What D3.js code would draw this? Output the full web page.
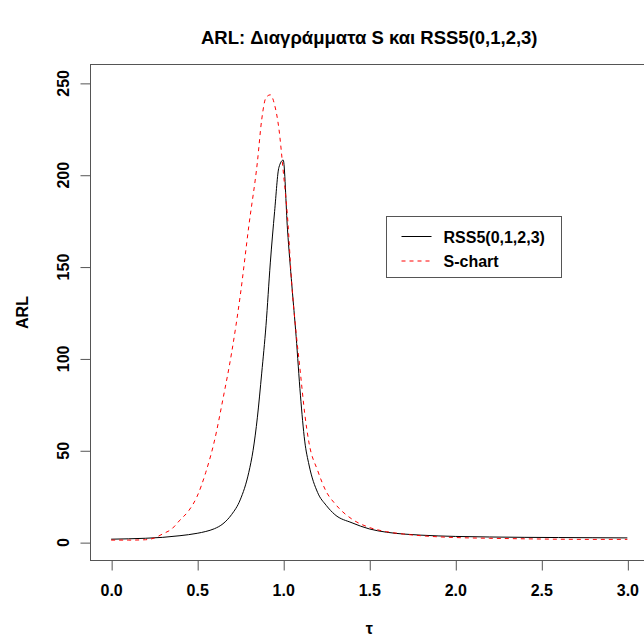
<!DOCTYPE html>
<html>
<head>
<meta charset="utf-8">
<script src="https://cdn.jsdelivr.net/npm/d3@7"></script>
<style>
  body { margin: 0; background: #fff; }
  svg text { font-family: "Liberation Sans", Arial, sans-serif; font-weight: bold; fill: #000; }
</style>
</head>
<body>
<div id="chart"></div>
<script>

// tau values and ARL for the two charts
var rssTau = [0, 0.1, 0.2, 0.3, 0.4, 0.5, 0.55, 0.6, 0.65, 0.7, 0.75, 0.8, 0.825, 0.85, 0.875, 0.9, 0.925, 0.95, 0.975, 1.0,
  1.025, 1.05, 1.075, 1.1, 1.125, 1.15, 1.2, 1.25, 1.3, 1.4, 1.5, 1.6, 1.7, 1.8, 2.0, 2.2, 2.4, 2.6, 2.8, 3.0];
var rssARL = [1.6, 1.8, 2.1, 2.6, 3.5, 4.8, 5.8, 7.3, 10, 15, 23, 38, 50, 68, 92, 118, 152, 180, 204, 208,
  170, 140, 112, 80, 55, 42, 27, 20, 15, 10.5, 7.2, 5.4, 4.4, 3.8, 3.1, 2.8, 2.6, 2.5, 2.4, 2.3];

var sTau = [0, 0.1, 0.2, 0.25, 0.3, 0.35, 0.4, 0.45, 0.5, 0.55, 0.6, 0.65, 0.7, 0.75, 0.8, 0.85, 0.875, 0.9, 0.925, 0.95, 0.975, 1.0,
  1.025, 1.05, 1.075, 1.1, 1.125, 1.15, 1.2, 1.25, 1.3, 1.4, 1.5, 1.6, 1.7, 1.8, 2.0, 2.2, 2.4, 2.6, 2.8, 3.0];
var sARL = [1.1, 1.1, 1.3, 2.2, 4.5, 7, 12, 17, 25, 38, 55, 78, 103, 134, 172, 207, 230, 242, 243.5, 238, 225, 202,
  177, 140, 114, 92, 70, 54, 39, 27.5, 21, 12.5, 8, 5.7, 4.4, 3.5, 2.5, 2.1, 1.8, 1.6, 1.5, 1.5];

var xTicks = [0, 0.5, 1.0, 1.5, 2.0, 2.5, 3.0];
var yTicks = [0, 50, 100, 150, 200, 250];
var legendNames = ["RSS5(0,1,2,3)", "S-chart"];

var W = 644, H = 637;
var plot = { left: 90.5, right: 648, top: 64.5, bottom: 560.5 };

var svg = d3.select("#chart").append("svg")
  .attr("width", W)
  .attr("height", H);

// R style: 4% padding on each side of the data range
var x = d3.scaleLinear().domain([-0.12, 3.12]).range([plot.left, plot.right]);
var y = d3.scaleLinear().domain([-10, 260]).range([plot.bottom, plot.top]);

// box
svg.append("rect")
  .attr("x", plot.left)
  .attr("y", plot.top)
  .attr("width", plot.right - plot.left)
  .attr("height", plot.bottom - plot.top)
  .attr("fill", "none")
  .attr("stroke", "#555")
  .attr("stroke-width", 1);

// x axis
var xAxis = svg.append("g")
  .attr("transform", "translate(0," + plot.bottom + ")")
  .call(d3.axisBottom(x).tickValues(xTicks).tickSize(10).tickPadding(25)
    .tickFormat(d3.format(".1f")));

xAxis.select(".domain").remove();
xAxis.selectAll("line").attr("stroke", "#555").attr("transform", "translate(0.5,0)");
xAxis.selectAll("text").style("font-size", "16px").attr("dy", "0");

// y axis, labels turned like R does
var yAxis = svg.append("g")
  .attr("transform", "translate(" + plot.left + ",0)")
  .call(d3.axisLeft(y).tickValues(yTicks).tickSize(10).tickFormat(d3.format("d")));

yAxis.select(".domain").remove();
yAxis.selectAll("line").attr("stroke", "#555").attr("transform", "translate(0,0.5)");
yAxis.selectAll("text")
  .style("font-size", "16px")
  .attr("x", null)
  .attr("dy", null)
  .attr("text-anchor", "middle")
  .attr("transform", "translate(-22,0) rotate(-90)");

// titles
svg.append("text")
  .attr("x", (plot.left + plot.right) / 2)
  .attr("y", 44)
  .attr("text-anchor", "middle")
  .style("font-size", "18.5px")
  .text("ARL: Διαγράμματα S και RSS5(0,1,2,3)");

svg.append("text")
  .attr("transform", "translate(28," + ((plot.top + plot.bottom) / 2) + ") rotate(-90)")
  .attr("text-anchor", "middle")
  .style("font-size", "16px")
  .text("ARL");

svg.append("text")
  .attr("x", (plot.left + plot.right) / 2)
  .attr("y", 634)
  .attr("text-anchor", "middle")
  .style("font-size", "16px")
  .text("τ");

// curves
var line = d3.line()
  .x(function(d) { return x(d[0]); })
  .y(function(d) { return y(d[1]); })
  .curve(d3.curveMonotoneX);

svg.append("path")
  .datum(d3.zip(rssTau, rssARL))
  .attr("d", line)
  .attr("fill", "none")
  .attr("stroke", "#000")
  .attr("stroke-width", 1);

svg.append("path")
  .datum(d3.zip(sTau, sARL))
  .attr("d", line)
  .attr("fill", "none")
  .attr("stroke", "#ff0000")
  .attr("stroke-width", 1)
  .attr("stroke-dasharray", "4,4");

// legend
var leg = svg.append("g").attr("transform", "translate(386.5,216.5)");

leg.append("rect")
  .attr("width", 175)
  .attr("height", 61)
  .attr("fill", "#fff")
  .attr("stroke", "#555");

var rows = leg.selectAll("g.row")
  .data(legendNames)
  .enter()
  .append("g")
  .attr("class", "row")
  .attr("transform", function(d, i) { return "translate(0," + (20 + i * 24.5) + ")"; });

rows.append("line")
  .attr("x1", 15)
  .attr("x2", 45)
  .attr("stroke", function(d, i) { return i === 0 ? "#000" : "#ff0000"; })
  .attr("stroke-dasharray", function(d, i) { return i === 0 ? null : "4,4"; });

rows.append("text")
  .attr("x", 57)
  .attr("y", 6)
  .style("font-size", "16px")
  .text(function(d) { return d; });

</script>
</body>
</html>
